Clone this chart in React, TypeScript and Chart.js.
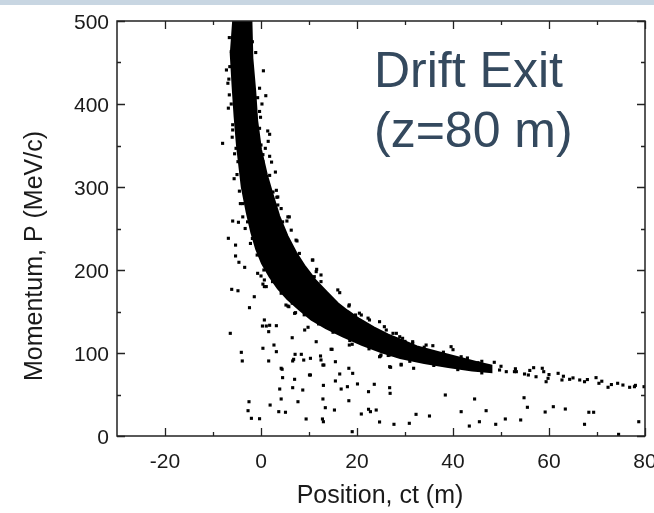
import React, { useEffect, useRef } from 'react';
import { Chart, registerables } from 'chart.js';

Chart.register(...registerables);

// Axis ticks
const xTickLabels = [-20, 0, 20, 40, 60, 80];
const xMinorTicks = [-10, 10, 30, 50, 70];
const yTickLabels = [0, 100, 200, 300, 400, 500];
const yMinorTicks = [50, 150, 250, 350, 450];

// Dense core of the distribution: outline [position ct (m), momentum P (MeV/c)]
const coreOutline: [number, number][] = [
  [-5.8, 500], [-6.3, 460], [-5.9, 420], [-5.5, 385], [-5, 350], [-4.4, 320], [-4, 300],
  [-3, 270], [-2, 245], [-1, 225], [0.2, 208], [1.8, 192], [3.5, 178], [5.5, 165],
  [8, 152], [10.5, 140], [13.5, 130], [17, 120], [21, 110], [25, 101], [29, 94],
  [34, 88], [39, 83], [44, 79], [48, 77],
  [48, 85], [45, 89], [41, 95], [37, 101], [32.5, 108], [29.5, 115], [26.5, 122],
  [23.5, 131], [20.5, 141], [18, 151], [16, 160], [13.8, 173], [11.3, 188], [9.2, 204],
  [7.3, 221], [5.5, 241], [3.8, 265], [2.2, 295], [1.2, 315], [0, 345], [-0.8, 380],
  [-1.2, 415], [-1.8, 455], [-2.0, 500],
];

// Points scattered around the edges of the dense band
const bandEdgePoints: [number, number][] = [
  [-1.1, 462], [-7.2, 441], [-0.3, 419], [-0.3, 391], [-0.1, 384], [1.4, 367.5], [1.8, 363.5],
  [-8, 352.6], [0.4, 339], [-5.2, 346.6], [0.4, 330.5], [1.8, 337],
  [-6.2, 463], [-6.9, 425], [-6.6, 411], [-0.7, 407.6], [-0.3, 370.7], [-5.9, 368.7],
  [0, 350.6], [0.9, 346.6], [-4.8, 330.5], [-2.4, 495], [-1.8, 475], [2.5, 294], [3.5, 288],
  [5.6, 264], [4.5, 258], [7.3, 236], [10.8, 212], [6.3, 248], [8, 220], [8.5, 202],
  [11.1, 192], [12.5, 186], [4.2, 274], [3.2, 296], [1.8, 314], [11.6, 200.8], [10.7, 212],
  [7.5, 235], [5.9, 264], [5.4, 259], [3.3, 287.6], [3.5, 278.3], [16, 176], [16.4, 172.7],
  [18.3, 156.6], [19.7, 145.8], [20.9, 145.8], [22.6, 139.8], [24.7, 137.7], [25.7, 131.7],
  [27.5, 123.7], [28.9, 119.6], [31.6, 111.7], [34.4, 109.6], [35.8, 108.8], [11.5, 198],
  [12.5, 194], [18.4, 158], [20.5, 148], [22.3, 142], [26.1, 127.7], [28.2, 123.7],
  [29.5, 117.7], [31.6, 113.6], [39.6, 107.6], [40, 104],
  [0.5, 440], [1, 410], [0.2, 400], [1.5, 355], [2.2, 330], [3, 318], [-6.6, 480],
  [-6.8, 395], [-6, 360], [-5.6, 310], [-4.3, 280], [-3.3, 250], [-2.2, 232],
  [-6.5, 445], [-6.7, 430], [-6.2, 400], [-5.9, 375], [-5.5, 340], [-5, 315], [-4.5, 295],
  [-3.8, 280], [-2.8, 258], [-1.8, 238], [-0.8, 218], [0.6, 200], [2.4, 186], [4.2, 172],
  [6.5, 160], [9, 146], [12, 135], [15, 125], [18.5, 115], [22.5, 105], [26.5, 97], [31, 90],
  [36, 85], [41, 80], [46, 76], [30, 114], [34, 107], [38, 101], [43, 94], [46, 90],
  [5.2, 157.8], [7, 147.8], [14.6, 104.5], [18.4, 109.6],
  [24.7, 95.5], [26.8, 97.6], [25, 97.6], [26.8, 83.5], [29.2, 86.4], [31.8, 81.6], [27, 82.8],
  [29.2, 85.5], [24.9, 96.4], [26.6, 99.6], [12.5, 91.6], [12.9, 85.5],
  [-3.8, 264], [-2.4, 154.6], [5.6, 156.6], [5.8, 155.8], [7.2, 148.6],
];

// Sparse tail of the band at large ct
const tailPoints: [number, number][] = [
  [45.2, 88.3], [48.6, 88.8], [56.8, 82.3], [58.6, 81.6], [58.9, 77.5], [61.9, 75.5],
  [59.8, 69.5], [59.4, 65.4], [62.7, 67.5], [64.3, 68.3], [66.4, 67.5], [67.4, 65.4],
  [69.8, 70.3], [70.4, 63.5], [72.3, 58.7], [74.3, 63.5], [75.4, 61.4], [76.8, 58.7],
  [77.8, 59.4], [79.8, 59.4], [55.7, 73.5], [57.3, 71.4], [53.2, 77.5], [54.9, 74.7],
  [49.7, 79.5], [51.1, 77.5], [52.8, 77.5], [46.2, 81.6], [47.6, 79.5], [41.4, 85.5],
  [42.8, 81.6], [35.8, 97.6], [37.9, 95.5], [41.7, 95.5], [43.4, 89.5], [50, 84], [53, 81],
  [56, 79], [60, 74], [63, 72], [65, 70], [68, 68], [71, 66], [73, 62], [78, 61],
];

// Stray particles well away from the band
const strayPoints: [number, number][] = [
  [-6.4, 123.7], [-4.1, 100.8], [-3.9, 90.4], [0.3, 132.5], [1.1, 132.5], [1.8, 133.4],
  [3.2, 132.9], [0.7, 139.8], [1.6, 125.7], [0.4, 105.7], [2.7, 109.6], [3.2, 101.6],
  [1.6, 90.4], [6.5, 118.4], [9.1, 127.7], [9.8, 131], [11.5, 113.6], [7.1, 98.4], [8.4, 98.4],
  [6.6, 90.4], [6.8, 92.4], [8.9, 91.5], [10.3, 93.6], [12.4, 96.4], [13.1, 85.5],
  [14.8, 104.4], [15.5, 89.5], [19, 110.5], [4.2, 81.6], [4.4, 80.4], [4.5, 70.3], [7, 68.3],
  [10.1, 73.5], [10.3, 73.5], [16.4, 74.7], [18.3, 81.6], [19.1, 75.5], [13, 61], [15.5, 66.3],
  [18, 59.4], [16.7, 56.6], [3.9, 56.6], [6.6, 58.2], [8.7, 55.4], [20.1, 62.7], [22.4, 53.4],
  [23.6, 62.3], [26.8, 58.2], [26.9, 51.4], [4.2, 44.6], [1.9, 37.3], [-2.5, 41.3],
  [-2.7, 30.5], [-2, 21.3], [-0.3, 20.8], [3.7, 29.3], [5.1, 28.6], [7.7, 41.3], [9.4, 20.5],
  [12.9, 44.6], [13.4, 34.1], [15.3, 31.3], [12.8, 20.5], [13, 17.2], [18.3, 42.5], [19, 5.2],
  [20.9, 26.5], [22.4, 32.2], [22.8, 29.3], [24, 31.3], [24.7, 16.9], [27.7, 14.1],
  [30.9, 15.3], [32.3, 26.1], [35.1, 24.1], [38.4, 49.4], [41.7, 29.3], [43.4, 12],
  [44.5, 44.6], [45.5, 17.2], [46.9, 30.5], [48.9, 14.1], [50.9, 20.5], [54.1, 19.3],
  [54.8, 46.1], [55.5, 34.6], [59.2, 28.9], [60.9, 35.3], [63.4, 32.5], [67.4, 14.1],
  [68.3, 28.6], [69.3, 28.6], [74.5, 2], [78.7, 17.2],
  [-5.9, 259], [-4.7, 257.5], [-6.8, 238.2], [-5.3, 230], [-5.3, 216.9], [-4.6, 209.3],
  [-3.4, 203.2], [-6.1, 176.7], [-4.8, 175], [-1.4, 167.8], [-0.7, 196], [0, 192.8],
  [0.7, 188], [0.7, 180], [1.1, 180], [0.4, 183], [2.6, 187],
];

const toXY = (arr: [number, number][]) => arr.map(([x, y]) => ({ x, y }));

const FONT = '"Liberation Sans", Arial, Helvetica, sans-serif';

const framePlugin = {
  id: 'frame',
  afterDraw(chart: any) {
    const { ctx, chartArea: a, scales } = chart;
    const xs = scales.x;
    const ys = scales.y;
    ctx.save();
    ctx.strokeStyle = '#222';
    ctx.lineWidth = 1.5;
    ctx.strokeRect(a.left, a.top, a.right - a.left, a.bottom - a.top);
    const major = 8;
    const minor = 4;
    ctx.beginPath();
    const xt = (v: number, len: number) => {
      const px = Math.round(xs.getPixelForValue(v)) + 0.5;
      ctx.moveTo(px, a.bottom);
      ctx.lineTo(px, a.bottom - len);
      ctx.moveTo(px, a.top);
      ctx.lineTo(px, a.top + len);
    };
    const yt = (v: number, len: number) => {
      const py = Math.round(ys.getPixelForValue(v)) + 0.5;
      ctx.moveTo(a.left, py);
      ctx.lineTo(a.left + len, py);
      ctx.moveTo(a.right, py);
      ctx.lineTo(a.right - len, py);
    };
    xTickLabels.forEach((v) => xt(v, major));
    xMinorTicks.forEach((v) => xt(v, minor));
    yTickLabels.forEach((v) => yt(v, major));
    yMinorTicks.forEach((v) => yt(v, minor));
    ctx.lineWidth = 1.3;
    ctx.stroke();

    ctx.fillStyle = '#1a1a1a';
    ctx.font = `21px ${FONT}`;
    ctx.textAlign = 'center';
    ctx.textBaseline = 'alphabetic';
    xTickLabels.forEach((v) => {
      ctx.fillText(String(v), xs.getPixelForValue(v), a.bottom + 32);
    });
    ctx.textAlign = 'right';
    yTickLabels.forEach((v) => {
      ctx.fillText(String(v), a.left - 8, ys.getPixelForValue(v) + 7.5);
    });

    ctx.font = `25px ${FONT}`;
    ctx.textAlign = 'center';
    ctx.fillText('Position, ct (m)', (a.left + a.right) / 2 - 1, a.bottom + 67);
    ctx.save();
    ctx.translate(42, 256);
    ctx.rotate(-Math.PI / 2);
    ctx.fillText('Momentum, P (MeV/c)', 0, 0);
    ctx.restore();
    ctx.restore();
  },
};

export default function App() {
  const canvasRef = useRef<HTMLCanvasElement | null>(null);

  useEffect(() => {
    const canvas = canvasRef.current;
    if (!canvas) return;
    const pointStyle = {
      pointStyle: 'rect' as const,
      pointRadius: 2.2,
      pointBorderWidth: 0,
      pointBackgroundColor: '#000',
      backgroundColor: '#000',
      borderColor: '#000',
      clip: 0,
    };
    const chart = new Chart(canvas, {
      type: 'scatter',
      data: {
        datasets: [
          { label: 'edge', data: toXY(bandEdgePoints), ...pointStyle },
          { label: 'tail', data: toXY(tailPoints), ...pointStyle },
          { label: 'stray', data: toXY(strayPoints), ...pointStyle },
          {
            type: 'line',
            label: 'core',
            data: toXY(coreOutline),
            showLine: true,
            fill: 'shape',
            tension: 0,
            borderWidth: 2,
            borderColor: '#000',
            backgroundColor: '#000',
            pointRadius: 0,
            clip: 0,
          } as any,
        ],
      },
      options: {
        animation: false,
        responsive: false,
        maintainAspectRatio: false,
        events: [],
        layout: { padding: { left: 117, right: 9, top: 21, bottom: 77 } },
        plugins: { legend: { display: false }, tooltip: { enabled: false } },
        scales: {
          x: { type: 'linear', display: false, min: -30, max: 80 },
          y: { type: 'linear', display: false, min: 0, max: 500 },
        },
      },
      plugins: [framePlugin],
    });
    return () => chart.destroy();
  }, []);

  return (
    <div style={{ position: 'fixed', left: 0, top: 0, width: 654, height: 513, background: '#fff', overflow: 'hidden' }}>
      <canvas ref={canvasRef} width={654} height={513} style={{ display: 'block', width: 654, height: 513 }} />
      <div style={{ position: 'absolute', left: 0, top: 0, width: 654, height: 5, background: '#c8d6e2' }} />
      <div
        style={{
          position: 'absolute',
          left: 374,
          top: 40,
          fontFamily: FONT,
          fontSize: 50,
          lineHeight: '60px',
          color: '#34495e',
          whiteSpace: 'pre',
        }}
      >
        {'Drift Exit\n(z=80 m)'}
      </div>
    </div>
  );
}
